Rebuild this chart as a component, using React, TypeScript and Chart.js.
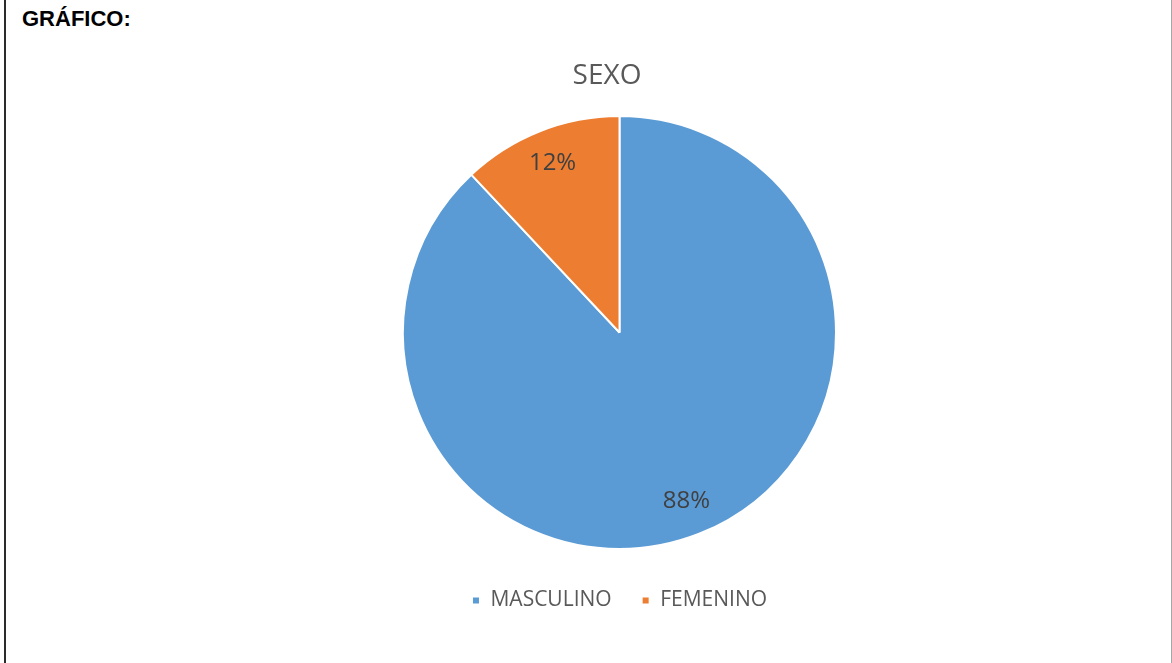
import React, { useEffect, useRef } from "react";
import { Chart, registerables } from "chart.js";

Chart.register(...registerables);

const categories = ["MASCULINO", "FEMENINO"];
const values = [88, 12];
const percentLabels = ["88%", "12%"];
const colors = ["#5B9BD5", "#ED7D31"];
const chartTitle = "SEXO";
const pageHeading = "GRÁFICO:";

const FONT = "'Open Sans', 'Noto Sans', sans-serif";

const sliceLabels = {
  id: "sliceLabels",
  afterDatasetsDraw(chart: any) {
    const ctx = chart.ctx;
    const meta = chart.getDatasetMeta(0);
    ctx.save();
    ctx.fillStyle = "#404040";
    ctx.font = `24px ${FONT}`;
    ctx.textAlign = "center";
    ctx.textBaseline = "middle";
    meta.data.forEach((arc: any, i: number) => {
      const p = arc.getProps(["x", "y", "startAngle", "endAngle", "outerRadius"], true);
      const mid = (p.startAngle + p.endAngle) / 2;
      const r = p.outerRadius * 0.84;
      ctx.fillText(percentLabels[i], p.x + Math.cos(mid) * r, p.y + Math.sin(mid) * r);
    });
    ctx.restore();
  },
};

export default function App() {
  const ref = useRef<HTMLCanvasElement | null>(null);
  useEffect(() => {
    if (!ref.current) return;
    const chart = new Chart(ref.current, {
      type: "pie",
      data: {
        labels: categories,
        datasets: [
          {
            data: values,
            backgroundColor: colors,
            borderColor: "#ffffff",
            borderWidth: 2,
          },
        ],
      },
      options: {
        animation: false,
        responsive: false,
        maintainAspectRatio: false,
        layout: { padding: { left: 67, right: 0, top: 115, bottom: 42 } },
        plugins: {
          title: { display: false },
          tooltip: { enabled: false },
          legend: {
            display: true,
            position: "bottom",
            title: { display: true, text: "", padding: 0, font: { size: 10, lineHeight: 1 } },
            labels: {
              boxWidth: 8,
              boxHeight: 8,
              padding: 30,
              color: "#595959",
              font: { family: FONT, size: 21 },
            },
          },
        },
      },
      plugins: [sliceLabels],
    });
    return () => chart.destroy();
  }, []);

  return (
    <div style={{ position: "fixed", left: 0, top: 0, width: 1172, height: 663, background: "#fff", overflow: "hidden" }}>
      <div style={{ position: "absolute", left: 4, top: 0, width: 2, height: 663, background: "#2b2b2b" }} />
      <div style={{ position: "absolute", left: 1171, top: 0, width: 1, height: 663, background: "#a6a6a6" }} />
      <div
        style={{
          position: "absolute",
          left: 22,
          top: 8,
          fontFamily: "'Liberation Sans', Arial, sans-serif",
          fontWeight: "bold",
          fontSize: 22,
          lineHeight: "22px",
          color: "#000",
          whiteSpace: "nowrap",
        }}
      >
        {pageHeading}
      </div>
      <canvas ref={ref} width={1172} height={663} style={{ position: "absolute", left: 0, top: 0, width: 1172, height: 663 }} />
      <div
        style={{
          position: "absolute",
          left: 507,
          top: 59,
          width: 200,
          textAlign: "center",
          fontFamily: FONT,
          fontSize: 28,
          lineHeight: "28px",
          color: "#595959",
        }}
      >
        {chartTitle}
      </div>
    </div>
  );
}
